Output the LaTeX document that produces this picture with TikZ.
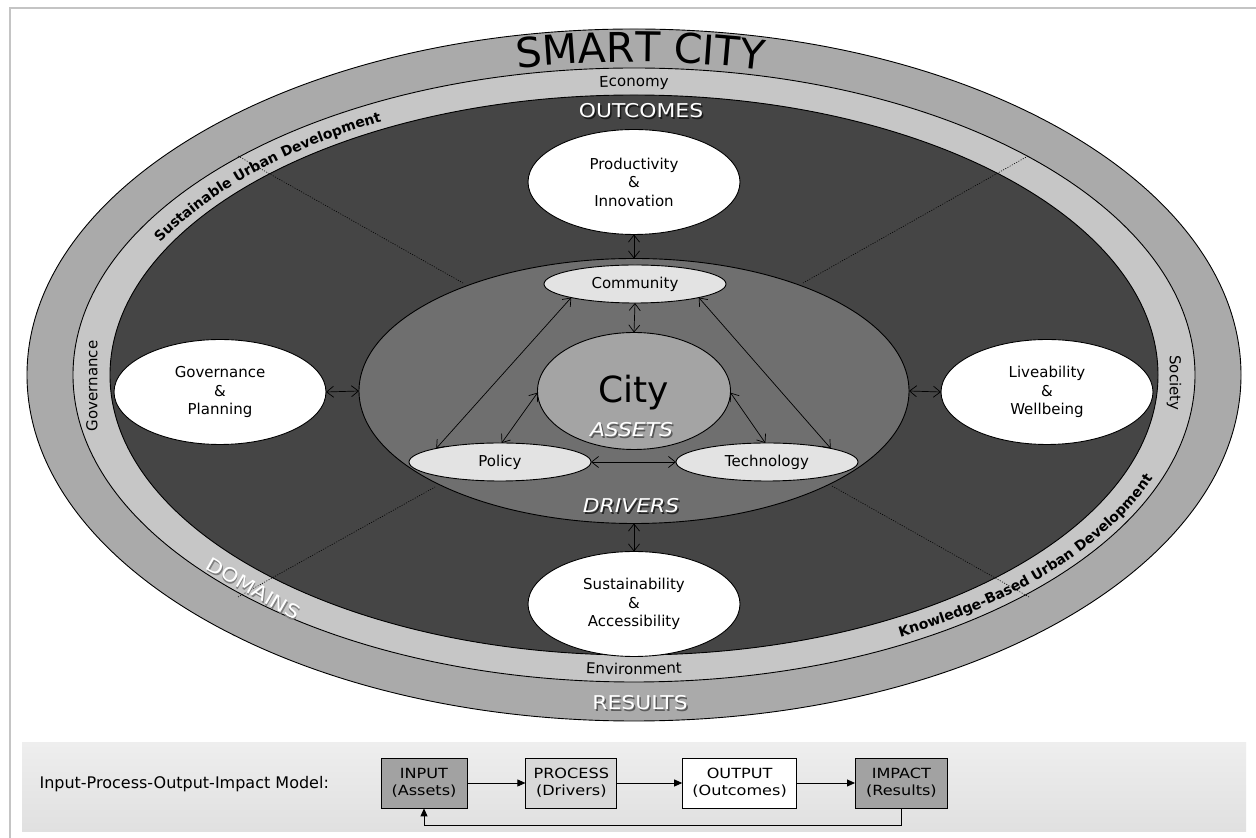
\documentclass[tikz,border=0pt]{standalone}
\usepackage{fontspec}
\setmainfont{DejaVu Sans}
\newfontfamily\headfont[FakeStretch=1.15]{DejaVu Sans}
\usepackage{tikz}
\usetikzlibrary{shapes.geometric, positioning, arrows.meta, decorations.text}

\definecolor{ringouter}{HTML}{AAAAAA}
\definecolor{ringlight}{HTML}{C6C6C6}
\definecolor{darkzone}{HTML}{454545}
\definecolor{drivergray}{HTML}{6F6F6F}
\definecolor{citygray}{HTML}{A4A4A4}
\definecolor{assetgray}{HTML}{E3E3E3}
\definecolor{boxgray}{HTML}{A2A2A2}
\definecolor{procgray}{HTML}{D8D8D8}
\definecolor{bandtop}{HTML}{EEEEEE}
\definecolor{bandbottom}{HTML}{E0E0E0}
\definecolor{framegray}{HTML}{C4C4C4}

\newcommand\smartfont{\fontsize{41pt}{41pt}\selectfont}
\newcommand\ringfont{\fontsize{15pt}{15pt}\selectfont}
\newcommand\ringbold{\fontsize{14pt}{14pt}\selectfont\bfseries}
\newcommand\whitefont{\headfont\fontsize{19pt}{19pt}\selectfont}
% white heading with its drop shadow in one box
\newcommand\shadowed[2][black]{\makebox[0pt][l]{\kern1.5pt\raisebox{-1.5pt}{\textcolor{#1}{#2}}}#2}

\tikzset{
  zone/.style={ellipse, draw=black, line width=0.9pt, inner sep=0pt, outer sep=0pt},
  outcome/.style={zone, fill=white, minimum width=212pt, minimum height=105pt,
    align=center, font=\fontsize{15pt}{18.5pt}\selectfont},
  asset/.style={zone, fill=assetgray, minimum width=182pt, minimum height=38pt,
    font=\fontsize{15pt}{15pt}\selectfont},
  link/.style={<->, >={Straight Barb[length=7pt,width=11pt]}, line width=0.7pt},
  divider/.style={black, line width=0.6pt, dash pattern=on 1pt off 1.5pt},
  whitelabel/.style={text=white, font=\whitefont, anchor=base},
  modelbox/.style={rectangle, draw=black, line width=0.8pt, minimum height=50pt,
    align=center, inner sep=2pt, font=\headfont\fontsize{14pt}{17pt}\selectfont},
  flow/.style={-{Triangle[length=8pt,width=7pt]}, line width=0.8pt}
}

\begin{document}
\begin{tikzpicture}[x=1pt, y=1pt]
\fill[white] (0,0) rectangle (1256,838);
\useasboundingbox (0,0) rectangle (1256,838);
\draw[framegray, line width=2.5pt] (10,0) -- (10,830) -- (1256,830);

% rings of the smart city
\node[zone, fill=ringouter, minimum width=1214pt, minimum height=692pt] (outer) at (634,463) {};
\node[zone, fill=ringlight, minimum width=1122pt, minimum height=614pt] (domains) at (634,463) {};
\node[zone, fill=darkzone, minimum width=1048pt, minimum height=560pt] (outcomes) at (634,463) {};

% dotted dividers
\draw[divider] (238,682) -- (463,555);
\draw[divider] (1028,682) -- (803,555);
\draw[divider] (238,241) -- (435,351);
\draw[divider] (1029,241) -- (832,352);

% drivers and assets
\node[zone, fill=drivergray, minimum width=550pt, minimum height=265pt] (drivers) at (634,447) {};
\node[zone, fill=citygray, minimum width=193pt, minimum height=117pt] (city) at (634,447) {};
\node[asset] (community) at (635,554) {Community};
\node[asset] (policy) at (500,376) {Policy};
\node[asset] (technology) at (767,376) {Technology};

% outcomes
\node[outcome] (productivity) at (634,656) {Productivity\\\&\\Innovation};
\node[outcome] (governance) at (220,446) {Governance\\\&\\Planning};
\node[outcome] (liveability) at (1047,446) {Liveability\\\&\\Wellbeing};
\node[outcome] (sustainability) at (634,234) {Sustainability\\\&\\Accessibility};

\draw[link] (productivity.south) -- (drivers.north);
\draw[link] (governance.east) -- (drivers.west);
\draw[link] (liveability.west) -- (drivers.east);
\draw[link] (sustainability.north) -- (drivers.south);
\draw[link] (community.south) -- (city.north);
\draw[link] (policy.east) -- (technology.west);
\draw[link] (community.192) -- (policy.168);
\draw[link] (community.348) -- (technology.12);
\draw[link] (city.181) -- (policy.85);
\draw[link] (city.359) -- (technology.95);

% texts
\node[font=\fontsize{36pt}{36pt}\selectfont, anchor=base] (citylabel) at (634,435) {City};

\path[decorate, decoration={text along path, text align=center,
  text={|\smartfont|SMART CITY}}]
  (634,463) ++(114.3:575 and 313) arc[start angle=114.3, end angle=64.3, x radius=575, y radius=313];

\path[decorate, decoration={text along path, text align=center, text={|\ringfont|Economy}}]
  (634,463) ++(100:530 and 288.5) arc[start angle=100, end angle=80, x radius=530, y radius=288.5];
\path[decorate, decoration={text along path, text align=center, text={|\ringfont|Environment}}]
  (634,463) ++(258:548 and 299.5) arc[start angle=258, end angle=282, x radius=548, y radius=299.5];
\path[decorate, decoration={text along path, text align=center,
  text={|\ringbold|Sustainable Urban Development}}]
  (634,463) ++(162:533 and 288) arc[start angle=162, end angle=112, x radius=533, y radius=288];
\path[decorate, decoration={text along path, text align=center,
  text={|\ringbold|Knowledge-Based Urban Development}}]
  (634,463) ++(-70:553 and 299) arc[start angle=-70, end angle=-6, x radius=553, y radius=299];

\node[rotate=90, font=\ringfont] (govlabel) at (92,452) {Governance};
\node[rotate=-90, font=\ringfont] (soclabel) at (1174,455) {Society};

\node[whitelabel] (outcomeslabel) at (641,720) {\shadowed[black!90]{OUTCOMES}};
\node[whitelabel, font=\whitefont\itshape] (assetslabel) at (631.5,401) {\shadowed[black!65]{ASSETS}};
\node[whitelabel, font=\whitefont\itshape] (driverslabel) at (631,325) {\shadowed[black!85]{DRIVERS}};
\node[whitelabel] (resultslabel) at (640,128) {\shadowed[black!65]{RESULTS}};
\node[whitelabel, anchor=center, rotate=-30] (domainslabel) at (253,249) {\shadowed[black!50]{DOMAINS}};

% input-process-output-impact model
\shade[top color=bandtop, bottom color=bandbottom] (22,6) rectangle (1246,95);
\node[anchor=west, font=\fontsize{16pt}{16pt}\selectfont] (modellabel) at (36,54) {Input-Process-Output-Impact Model:};
\node[modelbox, fill=boxgray, minimum width=86pt] (input) at (424,55) {INPUT\\(Assets)};
\node[modelbox, fill=procgray, minimum width=91pt, right=58pt of input] (process) {PROCESS\\(Drivers)};
\node[modelbox, fill=white, minimum width=114pt, right=65pt of process] (output) {OUTPUT\\(Outcomes)};
\node[modelbox, fill=boxgray, minimum width=92pt, right=58pt of output] (impact) {IMPACT\\(Results)};

\draw[flow] (input) -- (process);
\draw[flow] (process) -- (output);
\draw[flow] (output) -- (impact);
\draw[flow] (impact.south) -- ++(0,-17) -| (input.south);
\end{tikzpicture}
\end{document}
